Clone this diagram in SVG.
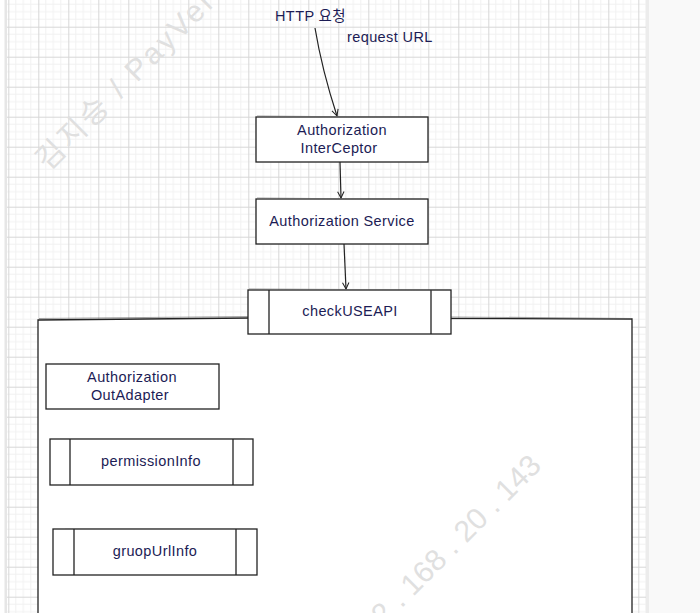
<svg xmlns="http://www.w3.org/2000/svg" width="700" height="613" viewBox="0 0 700 613">
  <defs>
    <pattern id="grid" patternUnits="userSpaceOnUse" x="8.3" y="26.7" width="30" height="30">
      <path d="M7.5 0V30M15 0V30M22.5 0V30M0 7.5H30M0 15H30M0 22.5H30" stroke="#f1f1f1" stroke-width="1" fill="none"/>
      <path d="M0.5 0V30M0 0.5H30" stroke="#d7d7d7" stroke-width="1" fill="none"/>
    </pattern>
    <marker id="arr" viewBox="0 0 10 10" refX="9" refY="5" markerWidth="8" markerHeight="8" orient="auto" markerUnits="userSpaceOnUse">
      <path d="M1 1 L9 5 L1 9" fill="none" stroke="#222" stroke-width="1.3"/>
    </marker>
  </defs>
  <style>
    .box { fill: #fff; stroke: #222; stroke-width: 1.3; }
    .sk { fill: none; stroke: #666; stroke-width: 1.2; opacity: 0.6; }
    .lbl { font-family: "Liberation Sans", "Noto Sans CJK KR", sans-serif; font-size: 14.5px; letter-spacing: 0.4px; fill: #1c1c55; text-anchor: middle; }
    .free { font-family: "Liberation Sans", "Noto Sans CJK KR", sans-serif; font-size: 14.5px; letter-spacing: 0.4px; fill: #1c1c55; }
    .wm { font-family: "Liberation Sans", "Noto Sans CJK KR", sans-serif; font-size: 30px; fill: #e0e0e0; }
    .conn { fill: none; stroke: #222; stroke-width: 1.2; }
  </style>

  <!-- background -->
  <rect x="0" y="0" width="700" height="613" fill="#f9f9f9"/>
  <rect x="0" y="0" width="647" height="613" fill="#ffffff"/>
  <rect x="7" y="0" width="640" height="613" fill="url(#grid)"/>
  <rect x="4.5" y="0" width="2.5" height="613" fill="#e6e6e6"/>
  <rect x="646" y="0" width="3" height="613" fill="#ececec"/>

  <!-- watermark (top) -->
  <text class="wm" letter-spacing="3" transform="translate(48,172) rotate(-45)">김지승  /  PayVerse</text>

  <!-- container -->
  <g id="container">
    <path class="box" d="M38 320 L250 318 L632 319 L632 620 L38 620 Z"/>
    <path class="sk" d="M39 318.5 L250 316.5 M451 317 L631 318.5"/>
  </g>

  <!-- watermark (bottom) -->
  <text class="wm" transform="translate(360,650) rotate(-45)">192 . 168 . 20 . 143</text>

  <!-- connectors -->
  <g id="connectors">
    <path class="conn" d="M315 28 Q322 70 337 116" marker-end="url(#arr)"/>
    <path class="conn" d="M340 162 L341 198" marker-end="url(#arr)"/>
    <path class="conn" d="M344 244 L346 289" marker-end="url(#arr)"/>
  </g>

  <g id="http-request">
    <text class="free" x="275" y="21">HTTP 요청</text>
  </g>
  <g id="request-url">
    <text class="free" x="347" y="42">request URL</text>
  </g>

  <g id="interceptor">
    <rect class="box" x="256" y="117" width="172" height="45"/>
    <path class="sk" d="M257 116 L427 117.5"/>
    <text class="lbl" x="342" y="135">Authorization</text>
    <text class="lbl" x="339" y="153">InterCeptor</text>
  </g>

  <g id="service">
    <rect class="box" x="256" y="199" width="172" height="45"/>
    <path class="sk" d="M257 198 L427 199.5"/>
    <text class="lbl" x="342" y="226">Authorization Service</text>
  </g>

  <g id="checkUSEAPI">
    <rect class="box" x="248" y="290" width="203" height="44"/>
    <path class="box" d="M269 290 V334 M431 290 V334"/>
    <path class="sk" d="M249 289 L450 290"/>
    <text class="lbl" x="350" y="316">checkUSEAPI</text>
  </g>

  <g id="outadapter">
    <rect class="box" x="46" y="364" width="173" height="45"/>
    <path class="sk" d="M60 363.5 L200 363.5"/>
    <text class="lbl" x="132" y="382">Authorization</text>
    <text class="lbl" x="130" y="400">OutAdapter</text>
  </g>

  <g id="permissionInfo">
    <rect class="box" x="50" y="439" width="203" height="46"/>
    <path class="box" d="M70 439 V485 M233 439 V485"/>
    <path class="sk" d="M60 438.5 L245 438.5"/>
    <text class="lbl" x="151" y="466">permissionInfo</text>
  </g>

  <g id="gruopUrlInfo">
    <rect class="box" x="53" y="529" width="204" height="46"/>
    <path class="box" d="M74 529 V575 M236 529 V575"/>
    <path class="sk" d="M65 528.5 L250 528.5"/>
    <text class="lbl" x="155" y="556">gruopUrlInfo</text>
  </g>
</svg>
